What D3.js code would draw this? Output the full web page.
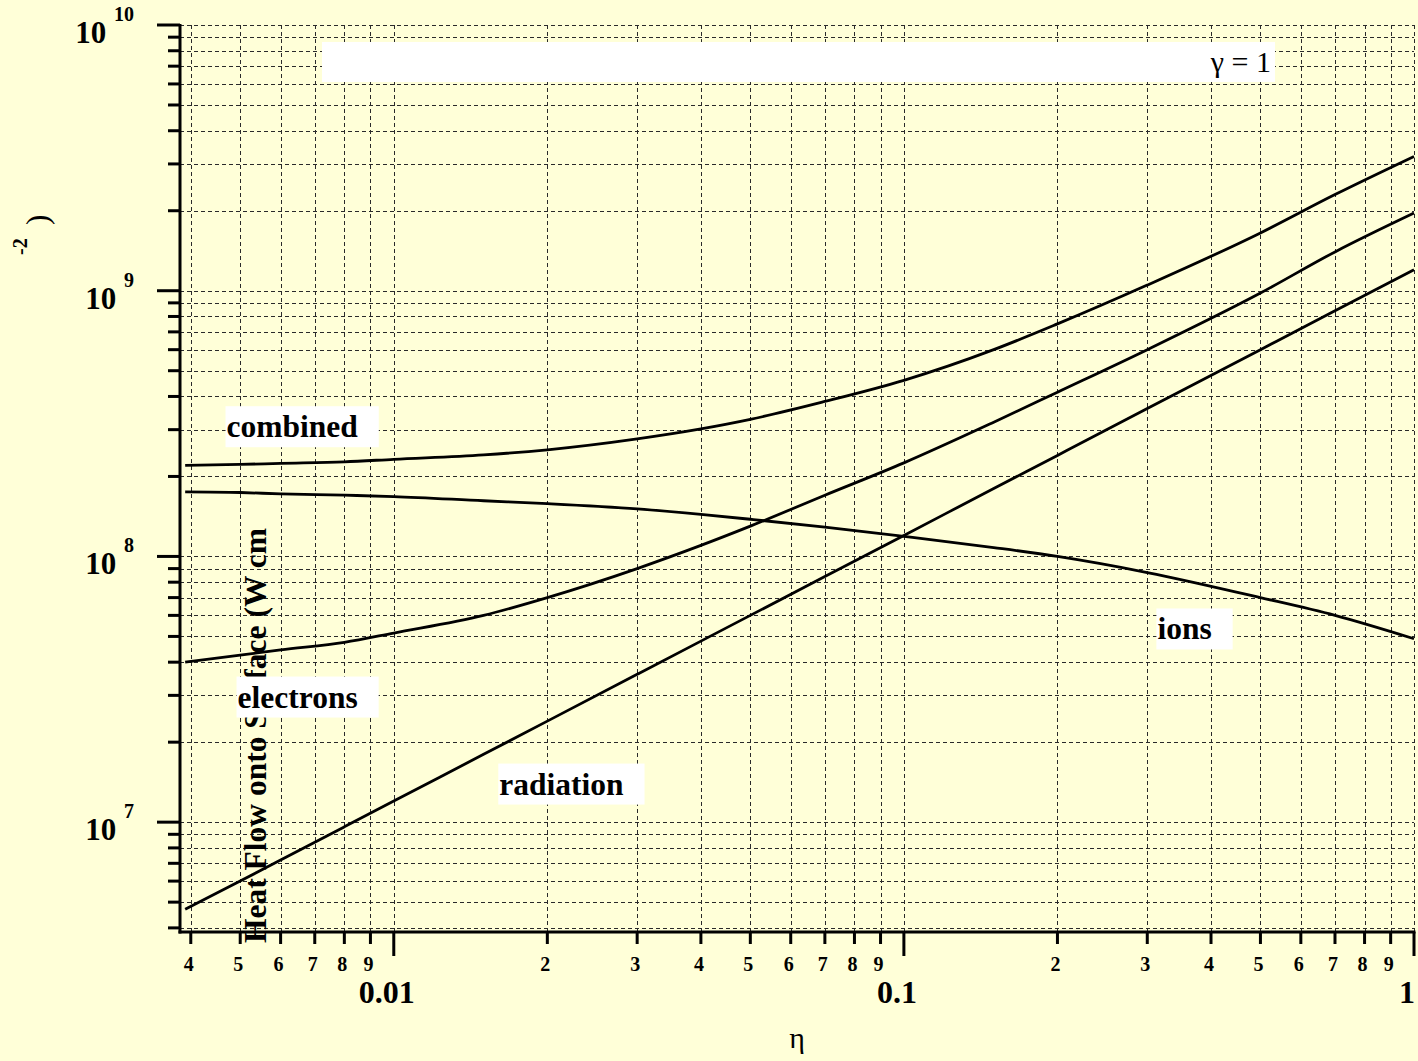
<!DOCTYPE html>
<html>
<head>
<meta charset="utf-8">
<script src="https://cdn.jsdelivr.net/npm/d3@7"></script>
<style>
  html, body { margin: 0; padding: 0; background: #ffffd8; }
  svg { display: block; }
  text { font-family: "Liberation Serif", "Times New Roman", serif; }
</style>
</head>
<body>
<svg width="1418" height="1061"></svg>
<script>
// values (eta on x, heat flow W cm^-2 on y)
const eta       = [0.0039, 0.005, 0.006, 0.008, 0.01, 0.015, 0.02, 0.03, 0.04, 0.05, 0.07, 0.1, 0.15, 0.2, 0.3, 0.5, 0.7, 1];
const combined  = [2.2e8, 2.22e8, 2.24e8, 2.27e8, 2.32e8, 2.41e8, 2.52e8, 2.77e8, 3.02e8, 3.28e8, 3.83e8, 4.6e8, 6.0e8, 7.5e8, 1.05e9, 1.65e9, 2.3e9, 3.2e9];
const ions      = [1.75e8, 1.74e8, 1.72e8, 1.70e8, 1.68e8, 1.62e8, 1.58e8, 1.51e8, 1.44e8, 1.38e8, 1.29e8, 1.19e8, 1.08e8, 1.0e8, 8.7e7, 7.0e7, 6.0e7, 4.9e7];
const electrons = [4.0e7, 4.25e7, 4.45e7, 4.75e7, 5.15e7, 6.0e7, 7.0e7, 9.0e7, 1.1e8, 1.3e8, 1.7e8, 2.25e8, 3.2e8, 4.15e8, 6.0e8, 9.8e8, 1.4e9, 1.96e9];
const radiation = [4.7e6, 6.0e6, 7.2e6, 9.6e6, 1.2e7, 1.8e7, 2.4e7, 3.6e7, 4.8e7, 6.0e7, 8.4e7, 1.2e8, 1.8e8, 2.4e8, 3.6e8, 6.0e8, 8.4e8, 1.2e9];

const seriesNames = ["combined", "ions", "electrons", "radiation"];
// where each curve label sits (eta, value at text baseline)
const labelEta   = [0.0047, 0.314, 0.00494, 0.0161];
const labelValue = [2.81e8, 4.87e7, 2.70e7, 1.27e7];

const xMajor = [0.01, 0.1, 1];
const xMajorLabels = ["0.01", "0.1", "1"];
const yMajor = [1e7, 1e8, 1e9, 1e10];
const yMajorExp = ["7", "8", "9", "10"];

const svg = d3.select("svg");
const pLeft = 180, pRight = 1414, pTop = 25, pBottom = 932;

const x = d3.scaleLog().domain([0.00381, 1]).range([pLeft, pRight]);
const y = d3.scaleLog().domain([3.86e6, 1e10]).range([pBottom, pTop]);

// every 1..9 step in each decade
const xTicks = [];
[0.001, 0.01, 0.1].forEach(function (d) {
  for (let k = 1; k <= 9; k++) {
    const v = d * k;
    if (v >= 0.004 - 1e-9 && v <= 1) xTicks.push(v);
  }
});
xTicks.push(1);
const yTicks = [];
[1e6, 1e7, 1e8, 1e9].forEach(function (d) {
  for (let k = 1; k <= 9; k++) {
    const v = d * k;
    if (v >= 4e6 - 1) yTicks.push(v);
  }
});
yTicks.push(1e10);

function isMajor(v) { return Math.abs(Math.log10(v) - Math.round(Math.log10(v))) < 1e-6; }

// grid
const grid = svg.append("g")
  .attr("stroke", "#2a2a2a")
  .attr("stroke-width", 1)
  .attr("stroke-dasharray", "4,3");
grid.selectAll("line.gx")
  .data(xTicks)
  .enter().append("line")
  .attr("x1", function (d) { return Math.round(x(d)) + 0.5; })
  .attr("x2", function (d) { return Math.round(x(d)) + 0.5; })
  .attr("y1", pTop)
  .attr("y2", pBottom);
grid.selectAll("line.gy")
  .data(yTicks)
  .enter().append("line")
  .attr("y1", function (d) { return Math.round(y(d)) + 0.5; })
  .attr("y2", function (d) { return Math.round(y(d)) + 0.5; })
  .attr("x1", pLeft)
  .attr("x2", pRight);

// gamma box
svg.append("rect")
  .attr("x", 322).attr("y", 42)
  .attr("width", 953).attr("height", 40)
  .attr("fill", "#fff");
svg.append("text")
  .attr("x", 1271).attr("y", 72)
  .attr("text-anchor", "end")
  .attr("font-size", 30)
  .text("γ = 1");

// y axis title (the superscript part sits up-left, as in the original)
svg.append("text")
  .attr("transform", "translate(266,943) rotate(-90)")
  .attr("font-size", 31.5)
  .attr("font-weight", "bold")
  .text("Heat Flow onto Surface (W cm");
svg.append("text")
  .attr("transform", "translate(27,255) rotate(-90)")
  .attr("font-size", 20)
  .attr("font-weight", "bold")
  .text("-2");
svg.append("text")
  .attr("transform", "translate(48,225) rotate(-90)")
  .attr("font-size", 31)
  .text(")");

// curves
const allSeries = [combined, ions, electrons, radiation];
const line = d3.line()
  .x(function (d) { return x(d[0]); })
  .y(function (d) { return y(d[1]); })
  .curve(d3.curveMonotoneX);
svg.append("g")
  .selectAll("path")
  .data(allSeries)
  .enter().append("path")
  .attr("d", function (s) { return line(eta.map(function (e, i) { return [e, s[i]]; })); })
  .attr("fill", "none")
  .attr("stroke", "#000")
  .attr("stroke-width", 2.8);

// axes
const ax = svg.append("g").attr("stroke", "#000").attr("stroke-width", 3);
ax.append("line").attr("x1", pLeft).attr("x2", pLeft).attr("y1", pTop - 1).attr("y2", pBottom + 1.5);
ax.append("line").attr("x1", pLeft - 1.5).attr("x2", pRight + 1.5).attr("y1", pBottom).attr("y2", pBottom);
ax.selectAll("line.ty")
  .data(yTicks)
  .enter().append("line")
  .attr("y1", function (d) { return y(d); })
  .attr("y2", function (d) { return y(d); })
  .attr("x1", function (d) { return isMajor(d) ? pLeft - 23 : pLeft - 12; })
  .attr("x2", pLeft);
ax.selectAll("line.tx")
  .data(xTicks)
  .enter().append("line")
  .attr("x1", function (d) { return x(d); })
  .attr("x2", function (d) { return x(d); })
  .attr("y1", pBottom)
  .attr("y2", function (d) { return isMajor(d) ? pBottom + 24 : pBottom + 12; });

// x tick labels
svg.selectAll("text.xminor")
  .data(xTicks.filter(function (d) { return !isMajor(d); }))
  .enter().append("text")
  .attr("x", function (d) { return x(d) - 2; })
  .attr("y", 971)
  .attr("text-anchor", "middle")
  .attr("font-size", 20)
  .attr("font-weight", "bold")
  .text(function (d) { return Math.round(d / Math.pow(10, Math.floor(Math.log10(d) + 1e-9))); });
svg.selectAll("text.xmajor")
  .data(xMajor)
  .enter().append("text")
  .attr("x", function (d) { return x(d) - 7; })
  .attr("y", 1003)
  .attr("text-anchor", "middle")
  .attr("font-size", 32)
  .attr("font-weight", "bold")
  .text(function (d, i) { return xMajorLabels[i]; });
svg.append("text")
  .attr("x", 797).attr("y", 1048)
  .attr("text-anchor", "middle")
  .attr("font-size", 30)
  .text("η");

// y tick labels: 10 with exponent
yMajor.forEach(function (v, i) {
  const t = svg.append("text")
    .attr("x", 134)
    .attr("y", y(v) + 18)
    .attr("text-anchor", "end")
    .attr("font-weight", "bold")
    .attr("font-size", 31);
  t.append("tspan").text("10 ");
  t.append("tspan").attr("font-size", 20).attr("dy", -22).text(yMajorExp[i]);
});

// curve labels on white boxes
seriesNames.forEach(function (name, i) {
  const g = svg.append("g");
  const bx = x(labelEta[i]), by = y(labelValue[i]);
  const t = g.append("text")
    .attr("x", bx).attr("y", by)
    .attr("font-size", 31.5)
    .attr("font-weight", "bold")
    .text(name);
  const w = t.node().getComputedTextLength();
  g.insert("rect", "text")
    .attr("x", bx - 1).attr("y", by - 31)
    .attr("width", w + 22).attr("height", 41)
    .attr("fill", "#fff");
});
</script>
</body>
</html>
